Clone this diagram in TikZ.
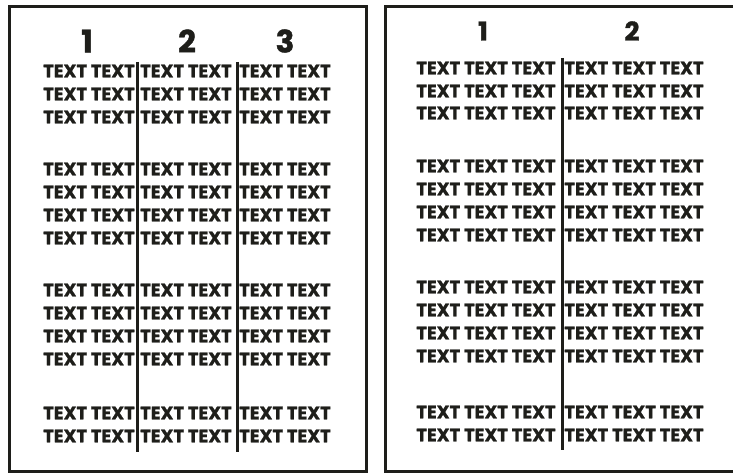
\documentclass[tikz,border=0pt]{standalone}
\usepackage{fontspec}
\setmainfont{Poppins}[BoldFeatures={FakeBold=1.2}]
\definecolor{ink}{HTML}{1E1E1A}

\begin{document}
\begin{tikzpicture}[
  x=1pt,y=-1pt,
  panel/.style={draw=ink,line width=3pt},
  rule/.style={draw=ink,line width=3pt},
  cell/.style={inner sep=0pt,text=ink,font=\bfseries\fontsize{18}{18}\selectfont},
  head/.style={inner sep=0pt,text=ink,font=\bfseries\fontsize{#1}{#1}\selectfont}
]
\clip (0,0) rectangle (733,476);
\useasboundingbox (0,0) rectangle (733,476);
% the two frames
\draw[panel] (9.5,7) rectangle (366,471);
\draw[panel] (385,7) rectangle (740,471);
% column numbers
\node[head=31] (lh1) at (87,41) {1};
\node[head=31] (lh2) at (187,41) {2};
\node[head=31] (lh3) at (285,41) {3};
\node[head=26] (rh1) at (483,31) {1};
\node[head=26] (rh2) at (632,31) {2};
% rows of text, left frame / right frame
\foreach \y/\v [count=\r] in {71/68,94/91,117/113,169/166,192/189,215/212,238/235,
                               290/287,313/310,336/333,359/356,413/412,436/435}{
  \node[cell] (l\r a) at (89,\y) {TEXT TEXT};
  \node[cell] (l\r b) at (186,\y) {TEXT TEXT};
  \node[cell] (l\r c) at (285,\y) {TEXT TEXT};
  \node[cell] (r\r a) at (486,\v) {TEXT TEXT TEXT};
  \node[cell] (r\r b) at (634,\v) {TEXT TEXT TEXT};
}
% column rules
\coordinate (lr1top) at (137,62);
\coordinate (lr1bot) at (137,452);
\coordinate (lr2top) at (237,62);
\coordinate (lr2bot) at (237,452);
\coordinate (rr1top) at (562,58);
\coordinate (rr1bot) at (562,450);
\draw[rule] (lr1top) -- (lr1bot);
\draw[rule] (lr2top) -- (lr2bot);
\draw[rule] (rr1top) -- (rr1bot);
\end{tikzpicture}
\end{document}
